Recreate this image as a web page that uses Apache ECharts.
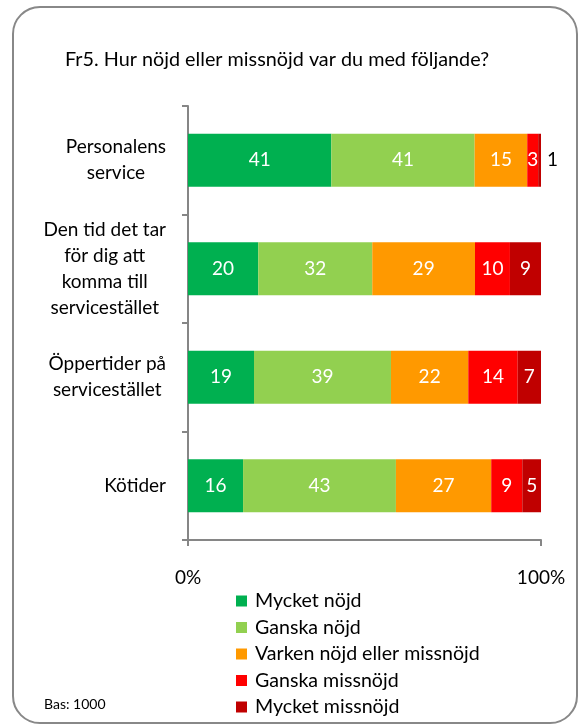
<!DOCTYPE html>
<html><head><meta charset="utf-8">
<script src="https://cdn.jsdelivr.net/npm/echarts@6/dist/echarts.min.js"></script>
<style>html,body{margin:0;padding:0;background:#fff}#c{width:582px;height:727px}</style>
</head><body><div id="c"></div>
<script>
const categories = ['Personalens\nservice', 'Den tid det tar\nför dig att\nkomma till\nservicestället', 'Öppertider på\nservicestället', 'Kötider'];
const seriesNames = ['Mycket nöjd', 'Ganska nöjd', 'Varken nöjd eller missnöjd', 'Ganska missnöjd', 'Mycket missnöjd'];
const mycketNojd = [40.6, 19.9, 18.7, 15.6];
const ganskaNojd = [40.6, 32.3, 38.8, 43.3];
const varken = [14.9, 29.1, 21.9, 27.0];
const ganskaMissnojd = [3.1, 9.9, 14.0, 8.8];
const mycketMissnojd = [0.8, 8.8, 6.6, 5.3];
const xTickLabels = ['0%', '100%'];
const titleText = 'Fr5. Hur nöjd eller missnöjd var du med följande?';
const baseText = 'Bas: 1000';

const values = [mycketNojd, ganskaNojd, varken, ganskaMissnojd, mycketMissnojd];
const colors = ['#00B050', '#92D050', '#FF9900', '#FF0000', '#C00000'];
const FF = 'Lato, "Open Sans", sans-serif';
const axisColor = '#868686';

const chart = echarts.init(document.getElementById('c'), null, {renderer: 'canvas'});
chart.setOption({
  animation: false,
  backgroundColor: '#fff',
  title: [
    {text: titleText, left: 65, top: 50, padding: 0, textStyle: {fontSize: 19.8, fontWeight: 'normal', color: '#000', fontFamily: FF}},
    {text: baseText, left: 44, top: 697, padding: 0, textStyle: {fontSize: 14, fontWeight: 'normal', color: '#000', fontFamily: FF}}
  ],
  graphic: [{
    type: 'rect', shape: {x: 13, y: 7, width: 564, height: 716, r: 27},
    style: {fill: 'none', stroke: '#888', lineWidth: 2}, silent: true
  }],
  legend: {
    orient: 'vertical', left: 236, top: 591, padding: 0,
    itemWidth: 11, itemHeight: 11, itemGap: 6.5, icon: 'rect',
    textStyle: {fontSize: 19.6, fontFamily: FF, color: '#000', lineHeight: 19.5, padding: [0, 0, 0, 3]},
    data: seriesNames
  },
  grid: {left: 188, top: 106, width: 353, height: 434, containLabel: false},
  xAxis: {
    type: 'value', min: 0, max: 100, interval: 100,
    axisLine: {show: true, lineStyle: {color: axisColor, width: 2}},
    axisTick: {show: true, length: 6, lineStyle: {color: axisColor, width: 2}},
    splitLine: {show: false},
    axisLabel: {margin: 28, fontSize: 19, fontFamily: FF, color: '#000',
      formatter: v => v === 0 ? xTickLabels[0] : (v === 100 ? xTickLabels[1] : '')}
  },
  yAxis: {
    type: 'category', inverse: true, data: categories,
    axisLine: {show: true, lineStyle: {color: axisColor, width: 2}},
    axisTick: {show: true, length: 6, lineStyle: {color: axisColor, width: 2}},
    axisLabel: {
      margin: 22, color: '#000', fontSize: 19, fontFamily: FF, lineHeight: 26,
      formatter: v => v.split('\n').map(s => '{c|' + s + '}').join('\n'),
      rich: {c: {align: 'center', fontSize: 19, lineHeight: 26, fontFamily: FF, color: '#000'}}
    }
  },
  series: seriesNames.map((n, i) => ({
    name: n, type: 'bar', stack: 'total', barWidth: 53,
    itemStyle: {color: colors[i]},
    label: {show: true, position: 'inside', color: '#fff', fontSize: 19, fontFamily: FF,
      formatter: p => String(Math.round(p.value))},
    data: values[i].map(v => v < 2 ? {value: v, label: {position: 'right', color: '#000', distance: 6}} : v)
  }))
});
</script></body></html>
